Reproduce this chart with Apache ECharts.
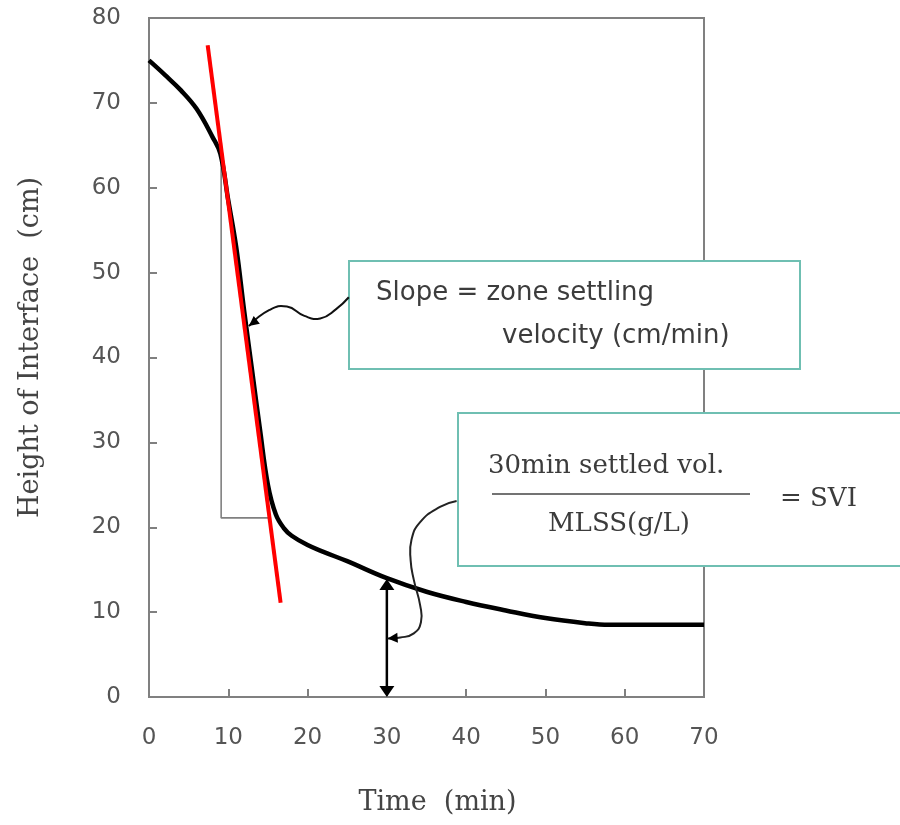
<!DOCTYPE html>
<html>
<head>
<meta charset="utf-8">
<script src="https://cdn.jsdelivr.net/npm/echarts@6/dist/echarts.min.js"></script>
<style>
  html, body { margin: 0; padding: 0; background: #fff; }
  #chart { width: 900px; height: 825px; }
</style>
</head>
<body>
<div id="chart"></div>
<script>
// Settling curve: interface height over time
const times   = [0, 2, 4, 6, 8, 9, 10, 11, 12, 13, 14, 15, 16, 17, 18, 20, 22, 25, 30, 35, 40, 45, 50, 55, 58, 62, 66, 70];
const heights = [75, 73.3, 71.5, 69.3, 66, 64, 58.5, 53, 45.5, 38.5, 31.5, 25, 21.5, 19.9, 19, 17.9, 17.1, 16, 14, 12.4, 11.2, 10.2, 9.3, 8.7, 8.5, 8.5, 8.5, 8.5];

// Tangent to the zone-settling portion
const tangentX = [7.4, 16.6];
const tangentY = [76.8, 11.1];

// Construction lines under the tangent (rise / run)
const guideX = [9.1, 9.1, 15.2];
const guideY = [63.5, 21.1, 21.1];

// Settled height at 30 min (double arrow)
const svAt = 30;
const svHeight = 13.9;

// Leader curves from the note boxes, in axis units
const slopeLeaderX = [25.2, 23.6, 21.6, 19.6, 17.4, 15.2, 12.6];
const slopeLeaderY = [47.1, 45.7, 44.6, 44.9, 46.0, 45.6, 43.7];
const sviLeaderX = [38.8, 36.7, 34.2, 33.1, 33.0, 33.4, 34.2, 34.3, 33.4, 31.7, 30.1];
const sviLeaderY = [23.1, 22.4, 20.6, 18.5, 16.1, 13.8, 10.8, 8.8, 7.5, 7.0, 6.9];

const xTicks = { min: 0, max: 70, interval: 10 };
const yTicks = { min: 0, max: 80, interval: 10 };

const zip = (a, b) => a.map((v, i) => [v, b[i]]);

const axisGray = '#808080';
const textGray = '#555';
const noteText = '#3c3c3c';
const serif = '"DejaVu Serif", "Liberation Serif", serif';
const sans = '"DejaVu Sans", "Liberation Sans", sans-serif';

const chart = echarts.init(document.getElementById('chart'), null, { renderer: 'canvas' });

chart.setOption({
  animation: false,
  backgroundColor: '#fff',
  grid: {
    left: 149, top: 18, width: 555, height: 679,
    show: true, borderColor: axisGray, borderWidth: 2, backgroundColor: 'transparent'
  },
  xAxis: {
    type: 'value', min: xTicks.min, max: xTicks.max, interval: xTicks.interval,
    name: 'Time  (min)', nameLocation: 'middle', nameGap: 92,
    nameTextStyle: { fontFamily: serif, fontSize: 27, color: '#444', padding: [0, 0, 0, 22] },
    axisLine: { show: true, lineStyle: { color: axisGray, width: 2 } },
    axisTick: { show: true, inside: true, length: 8, lineStyle: { color: axisGray, width: 2 } },
    axisLabel: { margin: 30, fontFamily: sans, fontSize: 23, color: textGray },
    splitLine: { show: false }
  },
  yAxis: {
    type: 'value', min: yTicks.min, max: yTicks.max, interval: yTicks.interval,
    name: 'Height of Interface  (cm)', nameLocation: 'middle', nameGap: 105, nameRotate: 90,
    nameTextStyle: { fontFamily: serif, fontSize: 27, color: '#444', padding: [0, 0, 0, 20] },
    axisLine: { show: true, lineStyle: { color: axisGray, width: 2 } },
    axisTick: { show: true, inside: true, length: 8, lineStyle: { color: axisGray, width: 2 } },
    axisLabel: { margin: 28, fontFamily: sans, fontSize: 23, color: textGray },
    splitLine: { show: false }
  },
  series: [
    {
      name: 'guide', type: 'line', data: zip(guideX, guideY), symbol: 'none',
      lineStyle: { color: axisGray, width: 1.6 }, z: 2, silent: true
    },
    {
      name: 'interface', type: 'line', data: zip(times, heights), symbol: 'none',
      smooth: 0.4,
      lineStyle: { color: '#000', width: 4.5 }, z: 3
    },
    {
      name: 'tangent', type: 'line', data: zip(tangentX, tangentY), symbol: 'none',
      lineStyle: { color: '#ff0000', width: 4 }, z: 4
    }
  ]
});

// Annotations anchored to data coordinates
const px = (x, y) => chart.convertToPixel({ gridIndex: 0 }, [x, y]);

function arrowHead(tip, from, len, half) {
  const dx = tip[0] - from[0], dy = tip[1] - from[1];
  const d = Math.hypot(dx, dy) || 1;
  const ux = dx / d, uy = dy / d;
  const bx = tip[0] - ux * len, by = tip[1] - uy * len;
  return {
    type: 'polygon', z: 120,
    shape: { points: [tip, [bx - uy * half, by + ux * half], [bx + uy * half, by - ux * half]] },
    style: { fill: '#000' }
  };
}

const svTop = px(svAt, svHeight);
const svBase = px(svAt, 0);
const slopePts = slopeLeaderX.map((x, i) => px(x, slopeLeaderY[i]));
const sviPts = sviLeaderX.map((x, i) => px(x, sviLeaderY[i]));

const boxStroke = '#6fbfb2';

chart.setOption({
  graphic: [
    // double arrow at 30 min
    { type: 'line', z: 110, shape: { x1: svTop[0], y1: svTop[1] + 6, x2: svBase[0], y2: svBase[1] - 6 },
      style: { stroke: '#000', lineWidth: 2.5 } },
    arrowHead(svTop, [svTop[0], svTop[1] + 20], 11, 7.5),
    arrowHead(svBase, [svBase[0], svBase[1] - 20], 11, 7.5),

    // leader curves
    { type: 'polyline', z: 110, shape: { points: slopePts, smooth: 0.5 },
      style: { stroke: '#111', lineWidth: 2, fill: null } },
    arrowHead(slopePts[slopePts.length - 1], slopePts[slopePts.length - 2], 10, 5),
    { type: 'polyline', z: 110, shape: { points: sviPts, smooth: 0.5 },
      style: { stroke: '#222', lineWidth: 2, fill: null } },
    arrowHead(sviPts[sviPts.length - 1], sviPts[sviPts.length - 2], 10, 5),

    // note box: slope
    { type: 'rect', z: 100, shape: { x: 349, y: 261, width: 451, height: 108 },
      style: { fill: '#fff', stroke: boxStroke, lineWidth: 2 } },
    { type: 'text', z: 101, x: 376, y: 293,
      style: { text: 'Slope = zone settling', font: '26px ' + sans, fill: noteText, verticalAlign: 'middle' } },
    { type: 'text', z: 101, x: 502, y: 336,
      style: { text: 'velocity (cm/min)', font: '26px ' + sans, fill: noteText, verticalAlign: 'middle' } },

    // note box: SVI
    { type: 'rect', z: 100, shape: { x: 458, y: 413, width: 460, height: 153 },
      style: { fill: '#fff', stroke: boxStroke, lineWidth: 2 } },
    { type: 'text', z: 101, x: 488, y: 466,
      style: { text: '30min settled vol.', font: '26px ' + serif, fill: noteText, verticalAlign: 'middle' } },
    { type: 'line', z: 101, shape: { x1: 492, y1: 494, x2: 750, y2: 494 },
      style: { stroke: '#444', lineWidth: 1.5 } },
    { type: 'text', z: 101, x: 619, y: 524,
      style: { text: 'MLSS(g/L)', font: '26px ' + serif, fill: noteText, align: 'center', verticalAlign: 'middle' } },
    { type: 'text', z: 101, x: 780, y: 499,
      style: { text: '= SVI', font: '26px ' + serif, fill: noteText, verticalAlign: 'middle' } }
  ]
});
</script>
</body>
</html>
